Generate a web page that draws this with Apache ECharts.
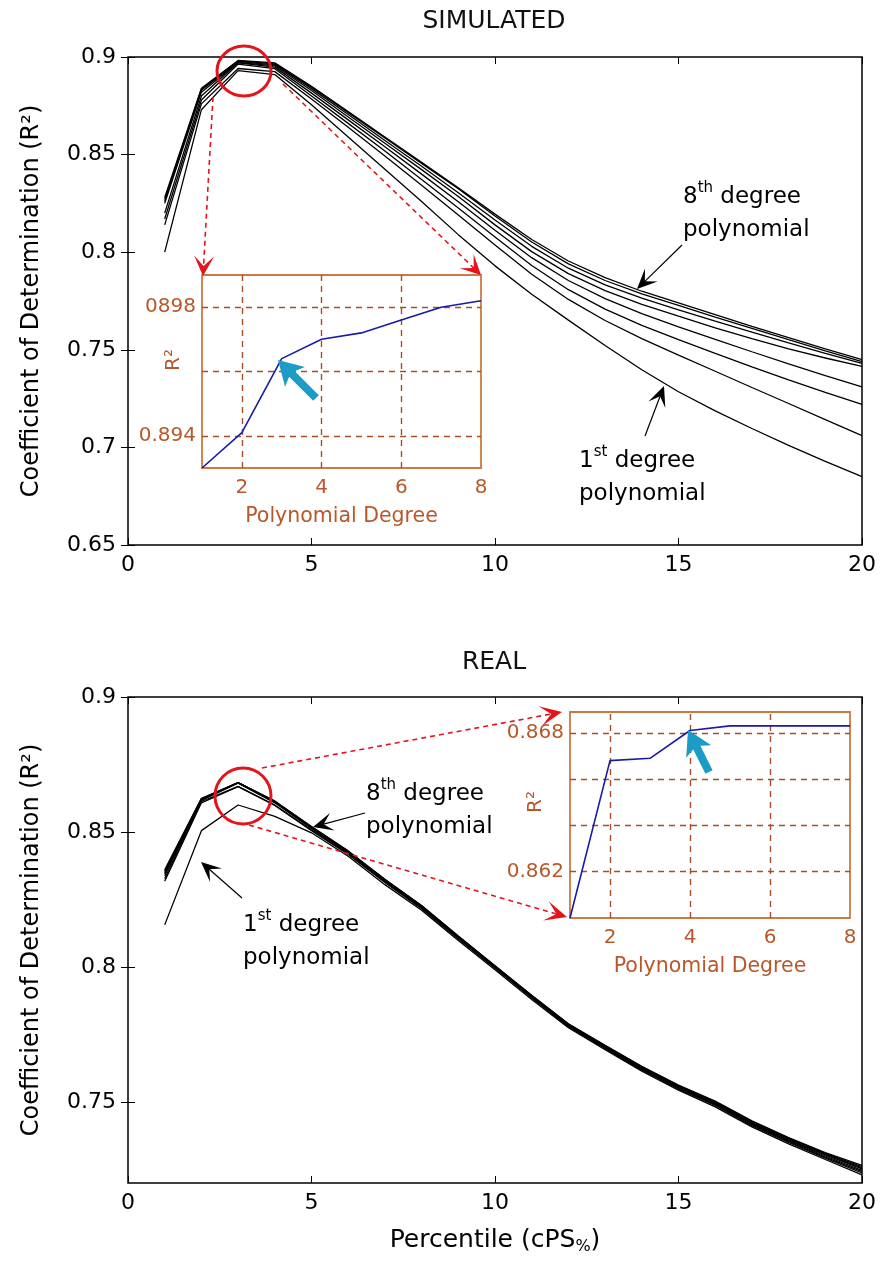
<!DOCTYPE html>
<html><head><meta charset="utf-8">
<script src="https://cdn.jsdelivr.net/npm/echarts@6/dist/echarts.min.js"></script>
<style>html,body{margin:0;padding:0;background:#fff}#c{width:882px;height:1270px}</style>
</head><body><div id="c"></div>
<script>
// ---------- data ----------
const percentiles = [1,2,3,4,5,6,7,8,9,10,11,12,13,14,15,16,17,18,19,20];
const simDeg1 = [0.800,0.873,0.8930,0.8910,0.8755,0.8590,0.8425,0.8260,0.8090,0.7930,0.7785,0.7652,0.7522,0.7398,0.7285,0.7187,0.7097,0.7010,0.6928,0.6850];
const simDeg2 = [0.814,0.876,0.8941,0.8925,0.8785,0.8640,0.8493,0.8343,0.8190,0.8037,0.7887,0.7758,0.7650,0.7557,0.7473,0.7390,0.7307,0.7225,0.7142,0.7060];
const simDeg3 = [0.817,0.878,0.8964,0.8940,0.8800,0.8660,0.8518,0.8373,0.8226,0.8078,0.7932,0.7808,0.7708,0.7625,0.7552,0.7482,0.7413,0.7346,0.7282,0.7220];
const simDeg4 = [0.820,0.880,0.8970,0.8948,0.8815,0.8678,0.8540,0.8400,0.8258,0.8112,0.7972,0.7855,0.7762,0.7685,0.7618,0.7553,0.7490,0.7428,0.7368,0.7310];
const simDeg5 = [0.825,0.882,0.8972,0.8955,0.8828,0.8693,0.8558,0.8423,0.8285,0.8140,0.8003,0.7890,0.7803,0.7733,0.7672,0.7612,0.7557,0.7505,0.7458,0.7415];
const simDeg6 = [0.826,0.883,0.8976,0.8960,0.8838,0.8705,0.8572,0.8440,0.8305,0.8165,0.8030,0.7918,0.7833,0.7765,0.7705,0.7647,0.7590,0.7535,0.7482,0.7430];
const simDeg7 = [0.827,0.8835,0.8980,0.8965,0.8845,0.8715,0.8585,0.8455,0.8325,0.8185,0.8052,0.7940,0.7855,0.7787,0.7728,0.7668,0.7610,0.7552,0.7495,0.7440];
const simDeg8 = [0.828,0.884,0.8982,0.8970,0.8850,0.8720,0.8590,0.8460,0.8330,0.8195,0.8065,0.7955,0.7870,0.7800,0.7740,0.7680,0.7620,0.7562,0.7505,0.7450];

const realDeg1 = [0.8156,0.8505,0.8600,0.8558,0.8497,0.8410,0.8305,0.8210,0.8098,0.7990,0.7880,0.7775,0.7694,0.7614,0.7544,0.7482,0.7408,0.7345,0.7287,0.7230];
const realDeg2 = [0.8318,0.8608,0.8668,0.8598,0.8505,0.8417,0.8313,0.8216,0.8104,0.7995,0.7885,0.7779,0.7698,0.7618,0.7548,0.7487,0.7412,0.7350,0.7292,0.7237];
const realDeg3 = [0.8328,0.8613,0.8669,0.8600,0.8508,0.8420,0.8316,0.8219,0.8107,0.7998,0.7888,0.7782,0.7701,0.7621,0.7551,0.7490,0.7415,0.7353,0.7296,0.7242];
const realDeg4 = [0.8338,0.8617,0.8681,0.8608,0.8513,0.8424,0.8319,0.8222,0.8110,0.8000,0.7890,0.7784,0.7703,0.7624,0.7554,0.7493,0.7419,0.7357,0.7300,0.7247];
const realDeg5 = [0.8345,0.8619,0.8683,0.8610,0.8515,0.8426,0.8321,0.8224,0.8112,0.8002,0.7892,0.7786,0.7705,0.7626,0.7557,0.7496,0.7422,0.7360,0.7304,0.7252];
const realDeg6 = [0.8350,0.8621,0.8683,0.8612,0.8517,0.8428,0.8323,0.8226,0.8113,0.8003,0.7893,0.7788,0.7707,0.7628,0.7559,0.7499,0.7425,0.7363,0.7307,0.7256];
const realDeg7 = [0.8355,0.8623,0.8683,0.8614,0.8519,0.8429,0.8324,0.8227,0.8114,0.8004,0.7894,0.7789,0.7709,0.7630,0.7561,0.7501,0.7428,0.7366,0.7310,0.7261];
const realDeg8 = [0.8360,0.8625,0.8683,0.8615,0.8520,0.8430,0.8325,0.8228,0.8115,0.8005,0.7895,0.7790,0.7710,0.7632,0.7563,0.7503,0.7430,0.7368,0.7313,0.7265];

const degrees = [1,2,3,4,5,6,7,8];
const simPeakR2  = [0.8930,0.8941,0.8964,0.8970,0.8972,0.8976,0.8980,0.8982];
const realPeakR2 = [0.8600,0.8668,0.8669,0.8681,0.8683,0.8683,0.8683,0.8683];

const xTicks = [0,5,10,15,20];
const simYTicks = [0.65,0.7,0.75,0.8,0.85,0.9];
const realYTicks = [0.75,0.8,0.85,0.9];
const insetXTicks = [2,4,6,8];
const insetXGrid = [2,4,6];
const simInsetYGrid = [0.894,0.896,0.898];
const simInsetYLabels = {0.894:'0.894', 0.898:'0898'};
const realInsetYGrid = [0.862,0.864,0.866,0.868];
const realInsetYLabels = {0.862:'0.862', 0.868:'0.868'};

// ---------- styling ----------
const FONT = 'DejaVu Sans';
const INK = '#b8582a';
const FRAME = '#cc7a42';
const GRIDC = '#a84e26';
const RED = '#e3141c';
const CYAN = '#1b9cc6';

const chart = echarts.init(document.getElementById('c'), null, {renderer:'canvas'});

const fmt2 = v => String(+(+v).toFixed(2));

function mainAxes(gi, yMin, yMax, yTicks, xName) {
  const xs = [
    {type:'value', gridIndex:gi, min:0, max:20, interval:5, position:'bottom',
     axisLine:{show:false}, splitLine:{show:false},
     axisTick:{inside:true, length:7, customValues:xTicks, lineStyle:{color:'#000', width:1}},
     axisLabel:{customValues:xTicks, color:'#000', fontSize:22, fontFamily:FONT, margin:9},
     name: xName || '', nameLocation:'middle', nameGap:42, nameMoveOverlap:false,
     nameTextStyle:{color:'#000', fontSize:25, fontFamily:FONT,
       rich:{a:{fontSize:25, fontFamily:FONT, color:'#000'}, s:{fontSize:16, fontFamily:FONT, color:'#000', verticalAlign:'bottom', padding:[14,0,0,0]}}}},
    {type:'value', gridIndex:gi, min:0, max:20, interval:5, position:'top',
     axisLine:{show:false}, splitLine:{show:false}, axisLabel:{show:false},
     axisTick:{inside:true, length:7, customValues:xTicks, lineStyle:{color:'#000'}}}
  ];
  const ys = [
    {type:'value', gridIndex:gi, min:yMin, max:yMax, position:'left',
     axisLine:{show:false}, splitLine:{show:false},
     axisTick:{inside:true, length:7, customValues:yTicks, lineStyle:{color:'#000'}},
     axisLabel:{customValues:yTicks, formatter:fmt2, color:'#000', fontSize:22, fontFamily:FONT, margin:12},
     name:'Coefficient of Determination (R²)', nameLocation:'middle', nameRotate:90, nameGap:84, nameMoveOverlap:false,
     nameTextStyle:{color:'#000', fontSize:24, fontFamily:FONT}},
    {type:'value', gridIndex:gi, min:yMin, max:yMax, position:'right',
     axisLine:{show:false}, splitLine:{show:false}, axisLabel:{show:false},
     axisTick:{inside:true, length:7, customValues:yTicks, lineStyle:{color:'#000'}}}
  ];
  return {xs, ys};
}

function insetAxes(gi, yMin, yMax, yLabelMap) {
  const yl = Object.keys(yLabelMap).map(Number);
  return {
    x: {type:'value', gridIndex:gi, min:1, max:8, position:'bottom', z:9,
        axisLine:{show:false}, splitLine:{show:false}, axisTick:{show:false},
        axisLabel:{customValues:insetXTicks, color:INK, fontSize:20, fontFamily:FONT, margin:10},
        name:'Polynomial Degree', nameLocation:'middle', nameGap:38, nameMoveOverlap:false,
        nameTextStyle:{color:INK, fontSize:20.5, fontFamily:FONT}},
    y: {type:'value', gridIndex:gi, min:yMin, max:yMax, position:'left', z:9,
        axisLine:{show:false}, splitLine:{show:false}, axisTick:{show:false},
        axisLabel:{customValues:yl, formatter:v => yLabelMap[+(+v).toFixed(3)] || '', color:INK, fontSize:20, fontFamily:FONT, margin:6}}
  };
}

const SIM_IN = [0.8930, 0.8990];
const REAL_IN = [0.8600, 0.8689];
const axTop = mainAxes(0, 0.65, 0.9, simYTicks, '');
const axBot = mainAxes(1, 0.72, 0.9, realYTicks, '{a|Percentile (cPS}{s|%}{a|)}');
const inTop = insetAxes(2, SIM_IN[0], SIM_IN[1], simInsetYLabels);
const inBot = insetAxes(3, REAL_IN[0], REAL_IN[1], realInsetYLabels);

const xAxisList = [axTop.xs[0], axTop.xs[1], axBot.xs[0], axBot.xs[1], inTop.x, inBot.x];
const yAxisList = [axTop.ys[0], axTop.ys[1], axBot.ys[0], axBot.ys[1], inTop.y, inBot.y];

const simSets = [simDeg1, simDeg2, simDeg3, simDeg4, simDeg5, simDeg6, simDeg7, simDeg8];
const realSets = [realDeg1, realDeg2, realDeg3, realDeg4, realDeg5, realDeg6, realDeg7, realDeg8];

const seriesList = [];
simSets.forEach((arr, i) => seriesList.push({
  type:'line', name:'sim deg '+(i+1), xAxisIndex:0, yAxisIndex:0, showSymbol:false, z:2,
  lineStyle:{color:'#000', width:1.3}, data: percentiles.map((p, k) => [p, arr[k]])
}));
realSets.forEach((arr, i) => seriesList.push({
  type:'line', name:'real deg '+(i+1), xAxisIndex:2, yAxisIndex:2, showSymbol:false, z:2,
  lineStyle:{color:'#000', width:1.3}, data: percentiles.map((p, k) => [p, arr[k]])
}));

function gridMarks(yGrid, yr) {
  const vx = insetXGrid.map(v => [{coord:[v, yr[0]]}, {coord:[v, yr[1]]}]);
  const hy = yGrid.map(v => [{coord:[1, v]}, {coord:[8, v]}]);
  return {silent:true, symbol:['none','none'], animation:false, label:{show:false}, z:11,
    lineStyle:{type:[6,5], color:GRIDC, width:1.4}, data: vx.concat(hy)};
}
seriesList.push({type:'line', name:'sim inset', xAxisIndex:4, yAxisIndex:4, showSymbol:false, z:12,
  lineStyle:{color:'#1a1aa8', width:1.6}, data: degrees.map((d,k)=>[d, simPeakR2[k]]), markLine: gridMarks(simInsetYGrid, SIM_IN)});
seriesList.push({type:'line', name:'real inset', xAxisIndex:5, yAxisIndex:5, showSymbol:false, z:12,
  lineStyle:{color:'#1a1aa8', width:1.6}, data: degrees.map((d,k)=>[d, realPeakR2[k]]), markLine: gridMarks(realInsetYGrid, REAL_IN)});

// ---------- annotations ----------
const g = [];
function head(tx, ty, fx, fy, len, hw, color, notch) {
  const dx = tx - fx, dy = ty - fy, L = Math.hypot(dx, dy), ux = dx/L, uy = dy/L;
  const bx = tx - ux*len, by = ty - uy*len, px = -uy, py = ux;
  const nx = tx - ux*len*(notch), ny = ty - uy*len*(notch);
  g.push({type:'polygon', z:30, shape:{points:[[tx,ty],[bx+px*hw,by+py*hw],[nx,ny],[bx-px*hw,by-py*hw]]}, style:{fill:color}});
  return [nx, ny];
}
function arrow(fx, fy, tx, ty, color, width, dash, len, hw, notch) {
  const e = head(tx, ty, fx, fy, len, hw, color, notch);
  g.push({type:'line', z:29, shape:{x1:fx, y1:fy, x2:e[0], y2:e[1]}, style:{stroke:color, lineWidth:width, lineDash:dash||null}});
}
function label(x, y, first, sup) {
  g.push({type:'text', z:30, x:x, y:y, style:{
    text:'{b|'+first+'}{s|'+sup+'}{b| degree}\n{b|polynomial}',
    rich:{b:{fontSize:23, fontFamily:FONT, fill:'#000', lineHeight:33},
          s:{fontSize:15, fontFamily:FONT, fill:'#000', verticalAlign:'top', lineHeight:33, padding:[0,0,11,0]}},
    fill:'#000', textVerticalAlign:'top'}});
}
function rname(x, y) {
  g.push({type:'text', z:30, x:x, y:y, rotation:Math.PI/2, style:{text:'R²', fontSize:20, fontFamily:FONT, fill:INK, textAlign:'center', textVerticalAlign:'middle'}});
}

// titles
g.push({type:'text', z:30, x:494, y:9, style:{text:'SIMULATED', fontSize:25, fontFamily:FONT, fill:'#111', textAlign:'center'}});
g.push({type:'text', z:30, x:494, y:650, style:{text:'REAL', fontSize:25, fontFamily:FONT, fill:'#111', textAlign:'center'}});

// top chart annotations
g.push({type:'ellipse', z:31, shape:{cx:244, cy:71, rx:27, ry:25}, style:{fill:null, stroke:RED, lineWidth:3}});
arrow(213, 97, 203, 276, RED, 1.6, [5,4], 20, 10, 0.5);
arrow(283, 84, 481, 275, RED, 1.6, [5,4], 20, 10, 0.5);
arrow(682, 245, 637, 289, '#000', 1.2, null, 20, 9, 0.55);
arrow(645, 436, 664, 386, '#000', 1.2, null, 20, 9, 0.55);
label(683, 181, '8', 'th');
label(579, 445, '1', 'st');
arrow(316, 398, 278, 360, CYAN, 8, null, 24, 14, 0.75);
rname(174, 360);

// bottom chart annotations
g.push({type:'ellipse', z:31, shape:{cx:243, cy:796, rx:28, ry:28}, style:{fill:null, stroke:RED, lineWidth:3}});
arrow(262, 768, 562, 712, RED, 1.6, [5,4], 22, 10, 0.5);
arrow(249, 825, 567, 917, RED, 1.6, [5,4], 22, 10, 0.5);
arrow(365, 813, 313, 827, '#000', 1.2, null, 20, 9, 0.55);
arrow(242, 898, 201, 862, '#000', 1.2, null, 20, 9, 0.55);
label(366, 778, '8', 'th');
label(243, 909, '1', 'st');
arrow(709, 772, 688, 730, CYAN, 8, null, 24, 14, 0.75);
rname(536, 802);

chart.setOption({
  animation:false,
  backgroundColor:'#fff',
  grid:[
    {left:128, top:57, width:734, height:488, show:true, borderColor:'#000', borderWidth:1.5, backgroundColor:'#fff', z:0},
    {left:128, top:697, width:734, height:486, show:true, borderColor:'#000', borderWidth:1.5, backgroundColor:'#fff', z:0},
    {left:202, top:275, width:279, height:193, show:true, borderColor:FRAME, borderWidth:1.8, backgroundColor:'#fff', z:8},
    {left:570, top:712, width:280, height:206, show:true, borderColor:FRAME, borderWidth:1.8, backgroundColor:'#fff', z:8}
  ],
  xAxis: xAxisList, yAxis: yAxisList, series: seriesList,
  graphic: g
});
</script></body></html>
